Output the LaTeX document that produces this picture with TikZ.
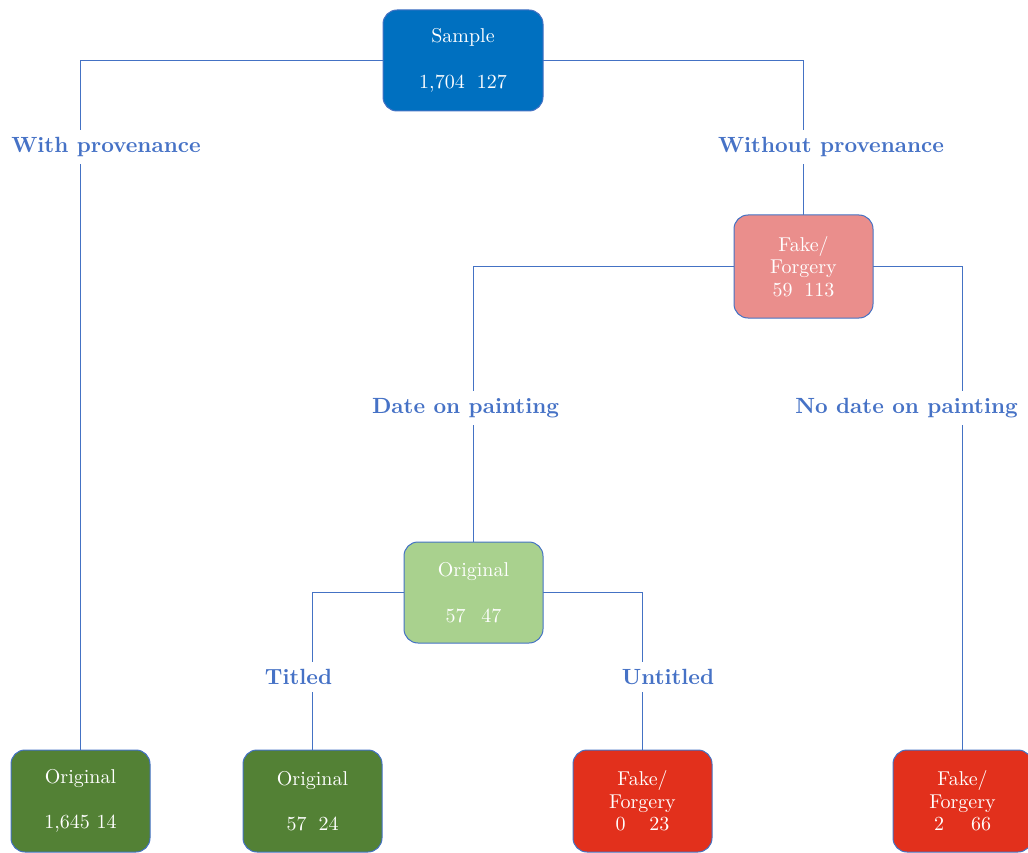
\documentclass[tikz,border=0pt]{standalone}
\usepackage{fontspec}
\setmainfont{lmroman10-regular.otf}[BoldFont=lmroman10-bold.otf]
\usetikzlibrary{backgrounds}
\begin{document}
\begin{tikzpicture}[x=1pt,y=-1pt,
  every node/.style={inner sep=0pt, outer sep=0pt},
  treebox/.style={draw=edgeblue, line width=1pt, rounded corners=14pt,
    minimum width=139pt, minimum height=102pt, align=center,
    text=white, font=\fontsize{20}{22.5}\selectfont},
  branch/.style={draw=edgeblue, line width=1pt},
  cut/.style={fill=white, inner xsep=3pt, inner ysep=7pt,
    text=labelblue, font=\fontsize{22}{25}\selectfont\bfseries}]
\definecolor{edgeblue}{HTML}{4472C4}
\definecolor{labelblue}{HTML}{4672C6}
\definecolor{sampleblue}{HTML}{0070C0}
\definecolor{fakepink}{HTML}{EA8E8C}
\definecolor{lightgreen}{HTML}{A9D18E}
\definecolor{darkgreen}{HTML}{538135}
\definecolor{fakered}{HTML}{E2301C}
\useasboundingbox (0,0) rectangle (1028,853);

% tree nodes
\node[treebox, fill=sampleblue, minimum width=160pt, minimum height=101pt]
  (sample) at (463,60.5) {Sample\\[23pt]1,704\hspace{12pt}127};
\node[treebox, fill=fakepink, minimum height=103pt]
  (fake) at (803.5,266.5) {Fake/\\Forgery\\59\hspace{12pt}113};
\node[treebox, fill=lightgreen, minimum height=101pt]
  (mid) at (473.5,592.5) {Original\\[23pt]57\hspace{16pt}47};
\node[treebox, fill=darkgreen] (leafA) at (80.5,801) {Original\\[23pt]1,645 14};
\node[treebox, fill=darkgreen] (leafB) at (312.5,801) {Original\\[23pt]57\hspace{12pt}24};
\node[treebox, fill=fakered] (leafC) at (642.5,801) {Fake/\\Forgery\\0\hspace{24pt}23};
\node[treebox, fill=fakered] (leafD) at (962.5,801)
  {Fake/\\Forgery\\2\hspace{27pt}66};

% connectors, kept behind the boxes
\begin{scope}[on background layer]
\draw[branch] (sample.west) -| (leafA.north);
\draw[branch] (sample.east) -| (fake.north);
\draw[branch] (fake.west) -| (mid.north);
\draw[branch] (fake.east) -| (leafD.north);
\draw[branch] (mid.west) -| (leafB.north);
\draw[branch] (mid.east) -| (leafC.north);
\end{scope}

% branch labels
\node[cut] (withprov) at (106,147) {With provenance};
\node[cut] (withoutprov) at (831,147) {Without provenance};
\node[cut] (dated) at (465.5,408) {Date on painting};
\node[cut] (undated) at (906.5,408) {No date on painting};
\node[cut] (titled) at (298.5,677) {Titled};
\node[cut] (untitled) at (668,677) {Untitled};
\end{tikzpicture}
\end{document}
